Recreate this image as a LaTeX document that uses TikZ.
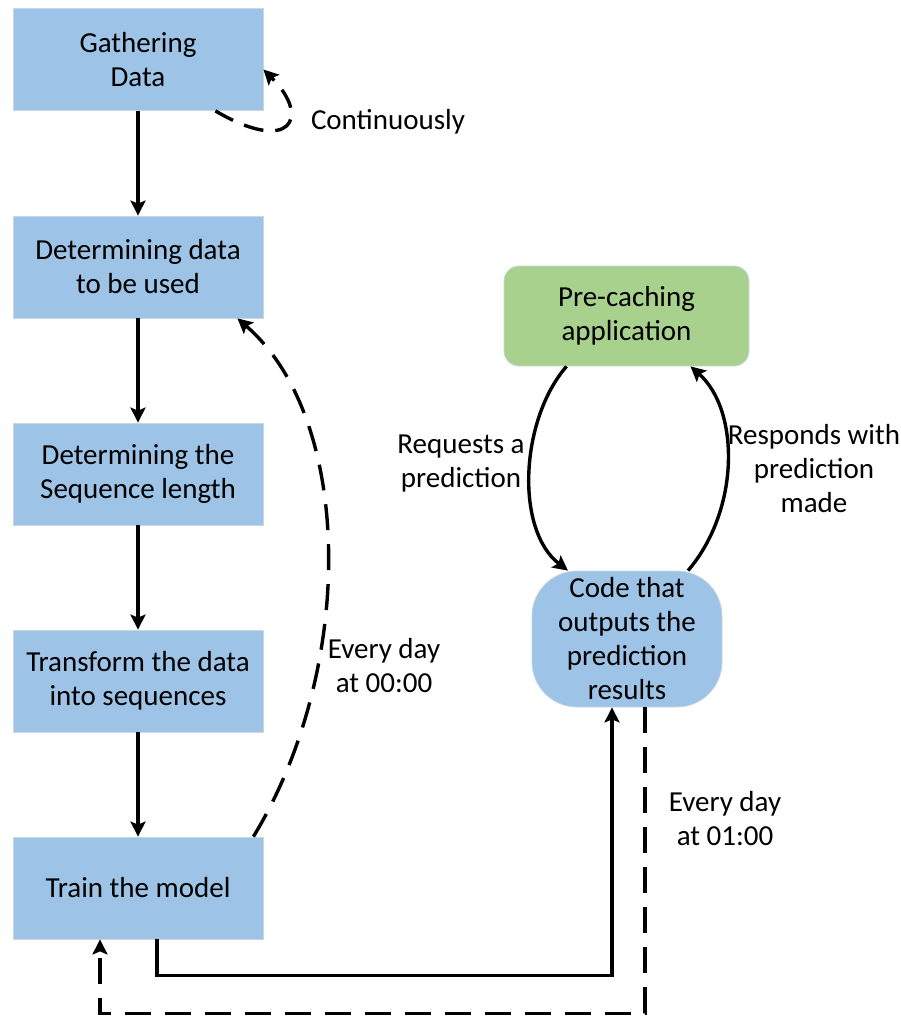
\documentclass[tikz,border=0pt]{standalone}
\usepackage{fontspec}
\setmainfont{Carlito}
\usetikzlibrary{arrows.meta}
\definecolor{boxblue}{HTML}{9DC3E6}
\definecolor{boxgreen}{HTML}{A9D18E}
\definecolor{boxedge}{HTML}{C9D6E3}
\begin{document}
\begin{tikzpicture}[x=1pt,y=-1pt,
  every node/.style={font=\fontsize{29}{34}\selectfont, align=center, inner sep=0pt},
  stepbox/.style={fill=boxblue, draw=boxedge, line width=0.8pt, minimum width=250pt, minimum height=102pt},
  appbox/.style={fill=boxgreen, draw=boxedge, line width=0.8pt, rounded corners=15pt, minimum width=245pt, minimum height=100pt},
  codebox/.style={fill=boxblue, draw=boxedge, line width=0.8pt, rounded corners=45pt, minimum width=190pt, minimum height=136pt},
  arr/.style={line width=3.4pt, -{Stealth[length=15pt,width=15pt,inset=3pt]}},
  dasharr/.style={arr, dash pattern=on 26pt off 14pt}]
\useasboundingbox (0,0) rectangle (901,1016);

% pipeline on the left
\node[stepbox] (g) at (138,59.5) {Gathering\\Data};
\node[stepbox] (d) at (138,267) {Determining data\\to be used};
\node[stepbox] (s) at (138,474) {Determining the\\Sequence length};
\node[stepbox] (t) at (138,681) {Transform the data\\into sequences};
\node[stepbox] (m) at (138,888) {Train the model};

% serving side
\node[appbox] (app) at (626.5,316) {Pre-caching\\application};
\node[codebox] (code) at (627,639) {Code that\\outputs the\\prediction\\results};

% straight flow
\draw[arr] (g.south) -- (d.north);
\draw[arr] (d.south) -- (s.north);
\draw[arr] (s.south) -- (t.north);
\draw[arr] (t.south) -- (m.north);

% continuous data gathering
\draw[dasharr, dash pattern=on 20pt off 12pt] ([xshift=-48pt]g.south east) .. controls (290,155) and (312,118) .. ([yshift=-10pt]g.east);
\node (cont) at (388,122) {Continuously};

% daily retraining
\draw[dasharr] ([xshift=-10pt]m.north east) .. controls (355,670) and (355,420) .. ([xshift=-26pt]d.south east);
\node (lbl0) at (384,666) {Every day\\at 00:00};

% request / response loop
\draw[arr] ([xshift=-60pt]app.south) .. controls (520,420) and (515,530) .. ([xshift=-59pt]code.north);
\draw[arr] ([xshift=61pt]code.north) .. controls (740,510) and (740,410) .. ([xshift=64pt]app.south);
\node (req) at (461,464) {Requests a\\prediction};
\node (resp) at (814,469) {Responds with\\prediction\\made};

% model handed to the prediction code
\draw[arr] ([xshift=19pt]m.south) -- ++(0,36) -| ([xshift=-15pt]code.south);

% daily prediction run back to training
\draw[dasharr] ([xshift=18pt]code.south) -- ++(0,306) -| ([xshift=-38pt]m.south);
\node (lbl1) at (725,819) {Every day\\at 01:00};
\end{tikzpicture}
\end{document}
